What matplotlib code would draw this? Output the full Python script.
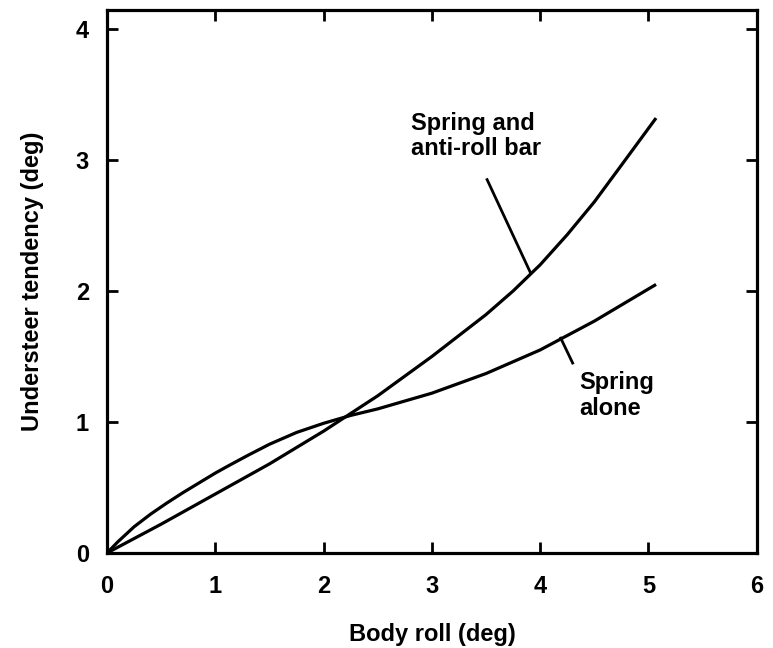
import matplotlib
matplotlib.use("Agg")
import matplotlib.pyplot as plt

# ---- curve data (body roll in deg -> understeer tendency in deg) ----
arb_roll = [0, 0.5, 1.0, 1.5, 2.0, 2.5, 3.0, 3.5, 3.75, 4.0, 4.25, 4.5, 4.75, 5.07]
arb_us = [0, 0.22, 0.45, 0.68, 0.93, 1.20, 1.50, 1.82, 2.00, 2.20, 2.43, 2.68, 2.96, 3.32]

spring_roll = [0, 0.1, 0.25, 0.4, 0.55, 0.7, 0.86, 1.0, 1.12, 1.3, 1.5, 1.75, 2.0,
               2.25, 2.5, 2.75, 3.0, 3.5, 4.0, 4.5, 5.07]
spring_us = [0, 0.085, 0.20, 0.295, 0.38, 0.46, 0.54, 0.61, 0.665, 0.745, 0.83,
             0.92, 0.99, 1.05, 1.10, 1.16, 1.22, 1.37, 1.55, 1.77, 2.05]

x_ticks = [0, 1, 2, 3, 4, 5, 6]
y_ticks = [0, 1, 2, 3, 4]

plt.rcParams["font.family"] = ["Liberation Sans", "DejaVu Sans"]
plt.rcParams["font.weight"] = "bold"
plt.rcParams["axes.labelweight"] = "bold"

fig = plt.figure(figsize=(7.73, 6.48), dpi=100)
ax = fig.add_axes([0.1384, 0.1466, 0.8406, 0.838])

ax.plot(arb_roll, arb_us, color="black", lw=2.3, solid_capstyle="butt")
ax.plot(spring_roll, spring_us, color="black", lw=2.3, solid_capstyle="butt")

# leader lines from labels to curves
ax.plot([3.51, 3.91], [2.85, 2.14], color="black", lw=2.0)
ax.plot([4.19, 4.30], [1.64, 1.45], color="black", lw=2.0)

ax.text(2.81, 3.37, "Spring and\nanti-roll bar", fontsize=17, va="top",
        ha="left", linespacing=1.15)
ax.text(4.36, 1.39, "Spring\nalone", fontsize=17, va="top", ha="left",
        linespacing=1.15)

ax.set_xlim(0, 6)
ax.set_ylim(0, 4.145)
ax.set_xticks(x_ticks)
ax.set_yticks(y_ticks)
ax.tick_params(direction="in", length=8, width=2, labelsize=17,
               top=True, right=True)
ax.tick_params(axis="x", pad=16)
ax.tick_params(axis="y", pad=13)
for sp in ax.spines.values():
    sp.set_linewidth(2.3)

ax.set_xlabel("Body roll (deg)", fontsize=17, labelpad=18)
ax.set_ylabel("Understeer tendency (deg)", fontsize=17, labelpad=23)

fig.savefig("out.png", dpi=100)
